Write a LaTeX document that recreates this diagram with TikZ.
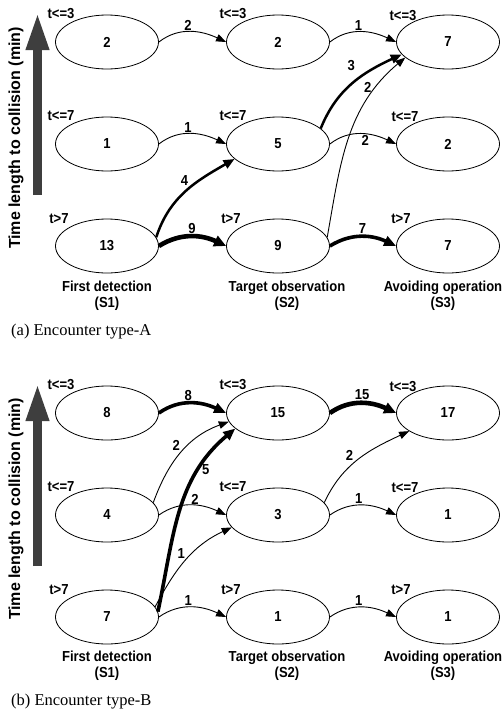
\documentclass[tikz,border=0pt]{standalone}
\usepackage{fontspec}
\setmainfont{Liberation Sans}
\newfontfamily\lblfont[FakeStretch=0.9]{Liberation Sans}
\newfontfamily\capfont{Liberation Serif}
\usetikzlibrary{shapes.geometric,arrows.meta,calc}
\definecolor{arrgray}{RGB}{62,62,62}
\begin{document}
\begin{tikzpicture}[x=1pt,y=1pt,
  stnode/.style={ellipse,draw,line width=0.8pt,minimum width=103pt,minimum height=54pt,inner sep=0pt,
    font=\lblfont\bfseries\fontsize{14.5}{17}\selectfont},
  tlab/.style={inner sep=0pt,font=\lblfont\bfseries\fontsize{14.5}{17}\selectfont},
  elab/.style={inner sep=1pt,font=\lblfont\bfseries\fontsize{14.5}{17}\selectfont},
  stagelab/.style={align=center,inner sep=0pt,font=\lblfont\bfseries\fontsize{14.5}{16}\selectfont},
  axlab/.style={rotate=90,inner sep=0pt,font=\bfseries\fontsize{16}{18}\selectfont},
  capt/.style={anchor=west,inner sep=0pt,font=\capfont\fontsize{16.5}{19}\selectfont},
  bigarr/.style={arrgray,line width=9pt,-{Triangle[length=38pt,width=21pt]}},
  thinarr/.style={line width=0.9pt,-{Triangle[length=10pt,width=7.5pt]}},
  medarr/.style={line width=2.5pt,-{Triangle[length=11pt,width=9pt]}},
  thickarr/.style={line width=3.6pt,-{Triangle[length=12pt,width=10pt]}},
  heavyarr/.style={line width=4.6pt,-{Triangle[length=12pt,width=11pt]}}
]
\useasboundingbox (0,0) rectangle (503,-713);

% ---------------- Panel A ----------------
\node[stnode] (A11) at (107,-42) {2};
\node[stnode] (A21) at (278,-42) {2};
\node[stnode] (A31) at (448,-42) {7};
\node[stnode] (A12) at (107,-144) {1};
\node[stnode] (A22) at (278,-144) {5};
\node[stnode] (A32) at (448,-144) {2};
\node[stnode] (A13) at (107,-246) {13};
\node[stnode] (A23) at (278,-246) {9};
\node[stnode] (A33) at (448,-246) {7};

\node[tlab] (tA11) at ($(A11)+(-46,28)$) {t<=3};
\node[tlab] (tA21) at ($(A21)+(-45,28)$) {t<=3};
\node[tlab] (tA31) at ($(A31)+(-45,26)$) {t<=3};
\node[tlab] (tA12) at ($(A12)+(-46,28)$) {t<=7};
\node[tlab] (tA22) at ($(A22)+(-45,28)$) {t<=7};
\node[tlab] (tA32) at ($(A32)+(-43,27)$) {t<=7};
\node[tlab] (tA13) at ($(A13)+(-48,27)$) {t>7};
\node[tlab] (tA23) at ($(A23)+(-47,27)$) {t>7};
\node[tlab] (tA33) at ($(A33)+(-47,27)$) {t>7};

\node[stagelab] (sA1) at ($(A13)+(0,-50)$) {First detection\\(S1)};
\node[stagelab] (sA2) at ($(A23)+(9,-50)$) {Target observation\\(S2)};
\node[stagelab] (sA3) at ($(A33)+(-5,-50)$) {Avoiding operation\\(S3)};

\coordinate (aA0) at (37.5,-195);
\coordinate (aA1) at (37.5,-12);
\draw[bigarr] (aA0) -- (aA1);
\node[axlab] (axA) at (16,-138) {Time length to collision (min)};

\node[capt] (capA) at (11,-332) {(a) Encounter type-A};

\draw[thinarr] (A11.east) to[out=38,in=155] node[elab,pos=0.45,above] {2} (A21.west);
\draw[thinarr] (A21.east) to[out=38,in=155] node[elab,pos=0.45,above] {1} (A31.west);
\draw[thinarr] (A12.east) to[out=38,in=155] node[elab,pos=0.45,above] {1} (A22.west);
\draw[medarr] (A13.10) to[out=72,in=210] node[elab,pos=0.55,above left] {4} (A22.199);
\draw[heavyarr] (A13.east) to[out=32,in=155] node[elab,pos=0.5,above] {9} (A23.west);
\draw[medarr] (A22.20) to[out=68,in=205] node[elab,pos=0.6,above left=4pt] {3} (A31.195);
\draw[thinarr] (A23.10) to[out=80,in=220] node[elab,pos=0.8,left=3pt] {2} (A31.200);
\draw[thinarr] (A22.east) to[out=38,in=155] node[elab,pos=0.55,below] {2} (A32.west);
\draw[thickarr] (A23.east) to[out=32,in=155] node[elab,pos=0.5,above] {7} (A33.west);

% ---------------- Panel B ----------------
\node[stnode] (B11) at (107,-413) {8};
\node[stnode] (B21) at (278,-413) {15};
\node[stnode] (B31) at (448,-413) {17};
\node[stnode] (B12) at (107,-515) {4};
\node[stnode] (B22) at (278,-515) {3};
\node[stnode] (B32) at (448,-515) {1};
\node[stnode] (B13) at (107,-617) {7};
\node[stnode] (B23) at (278,-617) {1};
\node[stnode] (B33) at (448,-617) {1};

\node[tlab] (tB11) at ($(B11)+(-46,28)$) {t<=3};
\node[tlab] (tB21) at ($(B21)+(-45,28)$) {t<=3};
\node[tlab] (tB31) at ($(B31)+(-45,26)$) {t<=3};
\node[tlab] (tB12) at ($(B12)+(-46,28)$) {t<=7};
\node[tlab] (tB22) at ($(B22)+(-45,28)$) {t<=7};
\node[tlab] (tB32) at ($(B32)+(-43,27)$) {t<=7};
\node[tlab] (tB13) at ($(B13)+(-48,27)$) {t>7};
\node[tlab] (tB23) at ($(B23)+(-47,27)$) {t>7};
\node[tlab] (tB33) at ($(B33)+(-47,27)$) {t>7};

\node[stagelab] (sB1) at ($(B13)+(0,-49)$) {First detection\\(S1)};
\node[stagelab] (sB2) at ($(B23)+(9,-49)$) {Target observation\\(S2)};
\node[stagelab] (sB3) at ($(B33)+(-5,-49)$) {Avoiding operation\\(S3)};

\coordinate (aB0) at (37.5,-566);
\coordinate (aB1) at (37.5,-383);
\draw[bigarr] (aB0) -- (aB1);
\node[axlab] (axB) at (16,-509) {Time length to collision (min)};

\node[capt] (capB) at (11,-702) {(b) Encounter type-B};

\draw[thickarr] (B11.east) to[out=35,in=155] node[elab,pos=0.45,above] {8} (B21.west);
\draw[thinarr] (B12.15) to[out=70,in=200] node[elab,pos=0.5,above left] {2} (B21.190);
\draw[thinarr] (B12.east) to[out=35,in=155] node[elab,pos=0.55,above] {2} (B22.west);
\draw[thickarr] (B13.6) to[out=78,in=220] node[elab,pos=0.74,right] {5} (B21.200);
\draw[thinarr] (B13.12) to[out=62,in=205] node[elab,pos=0.5,above left] {1} (B22.195);
\draw[thinarr] (B13.east) to[out=35,in=155] node[elab,pos=0.45,above] {1} (B23.west);
\draw[heavyarr] (B21.east) to[out=35,in=155] node[elab,pos=0.5,above] {15} (B31.west);
\draw[thinarr] (B22.15) to[out=65,in=205] node[elab,pos=0.45,above left] {2} (B31.205);
\draw[thinarr] (B22.east) to[out=35,in=155] node[elab,pos=0.45,above] {1} (B32.west);
\draw[thinarr] (B23.east) to[out=35,in=155] node[elab,pos=0.45,above] {1} (B33.west);
\end{tikzpicture}
\end{document}
